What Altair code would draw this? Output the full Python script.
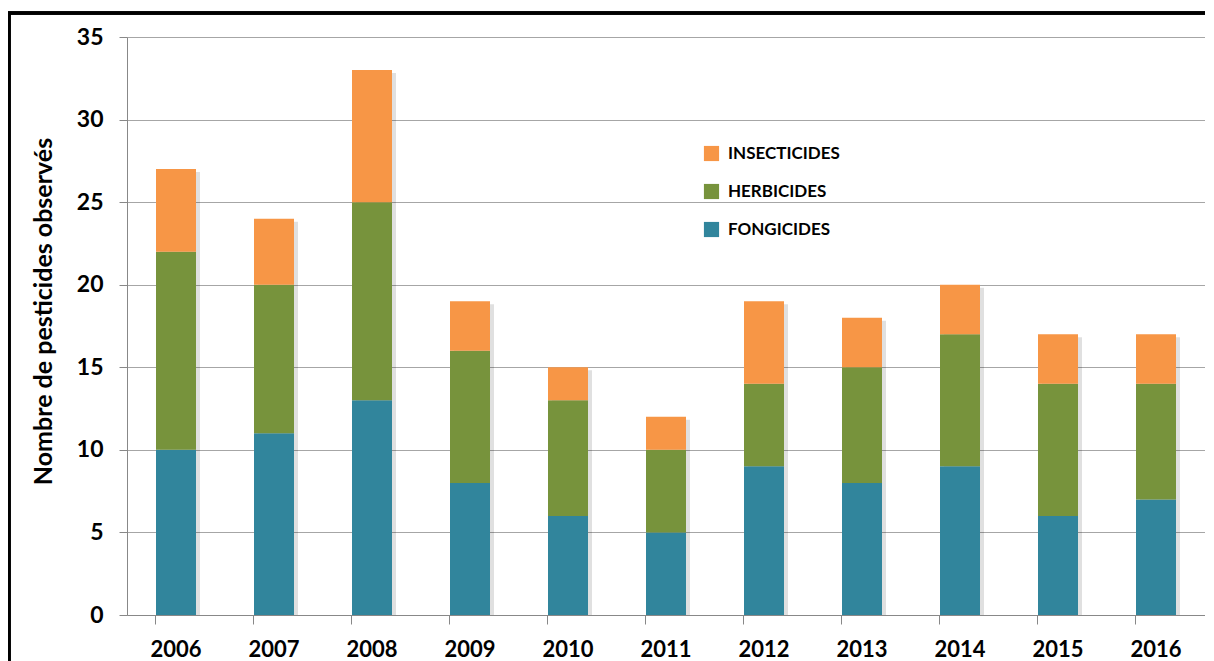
import altair as alt
import pandas as pd

years = ["2006", "2007", "2008", "2009", "2010", "2011", "2012", "2013", "2014", "2015", "2016"]
fongicides = [10, 11, 13, 8, 6, 5, 9, 8, 9, 6, 7]
herbicides = [12, 9, 12, 8, 7, 5, 5, 7, 8, 8, 7]
insecticides = [5, 4, 8, 3, 2, 2, 5, 3, 3, 3, 3]
categories = ["Insecticides", "Herbicides", "Fongicides"]
colors = ["#F79646", "#77933C", "#31859C"]
stack_rank = {"Fongicides": 0, "Herbicides": 1, "Insecticides": 2}

rows = []
for i, y in enumerate(years):
    for name, vals in (("Fongicides", fongicides), ("Herbicides", herbicides), ("Insecticides", insecticides)):
        rows.append({"annee": y, "type": name, "valeur": vals[i], "rang": stack_rank[name]})
df = pd.DataFrame(rows)
totals = pd.DataFrame({"annee": years,
                       "total": [f + h + s for f, h, s in zip(fongicides, herbicides, insecticides)]})

FONT = "Lato"
W, H = 1078, 578

xenc = alt.X("annee:N", title=None, sort=years,
             scale=alt.Scale(paddingInner=0.59, paddingOuter=0.295),
             axis=alt.Axis(labelAngle=0, labelFont=FONT, labelFontSize=22, labelFontWeight="bold",
                           labelColor="#000", labelPadding=15, domainColor="#888", tickColor="#888",
                           tickSize=9, bandPosition=0, grid=False))

shadow = alt.Chart(totals).mark_bar(color="#000", opacity=0.12, xOffset=4, yOffset=3, size=40).encode(
    x=xenc,
    y=alt.Y("total:Q"),
    y2=alt.datum(0),
)

bars = alt.Chart(df).mark_bar(size=40).encode(
    x=xenc,
    y=alt.Y("valeur:Q", stack="zero",
            title="Nombre de pesticides observés",
            scale=alt.Scale(domain=[0, 35]),
            axis=alt.Axis(values=[0, 5, 10, 15, 20, 25, 30, 35], labelFont=FONT, labelFontSize=23,
                          labelFontWeight="bold", labelColor="#000", labelPadding=16,
                          titleFont=FONT, titleFontSize=25, titleFontWeight="bold", titleColor="#000",
                          titleX=-84, titleY=274, titleBaseline="middle", titleAlign="center",
                          domainColor="#888", tickColor="#888", tickSize=8,
                          gridColor="#a6a6a6", gridWidth=1.2)),
    color=alt.Color("type:N", scale=alt.Scale(domain=categories, range=colors),
                    legend=alt.Legend(title=None, orient="none", legendX=576, legendY=108,
                                      symbolType="square", symbolSize=230, symbolStrokeWidth=0,
                                      labelFont=FONT, labelFontSize=17, labelFontWeight="bold",
                                      labelColor="#000", rowPadding=20, labelOffset=8,
                                      labelExpr="upper(datum.label)")),
    order=alt.Order("rang:Q", sort="ascending"),
)

border = alt.Chart(totals).mark_rect(filled=False, stroke="#000", strokeWidth=2.5, clip=False).encode(
    x=alt.value(-118), x2=alt.value(1400), y=alt.value(-24), y2=alt.value(800)
)

chart = alt.layer(shadow, bars, border).properties(
    width=W, height=H,
    autosize=alt.AutoSizeParams(type="none"),
    padding={"left": 119, "top": 29, "right": 0, "bottom": 46},
).configure_view(stroke=None).configure(background="white")

chart.save("out.html", embed_options={"renderer": "svg", "actions": False})
